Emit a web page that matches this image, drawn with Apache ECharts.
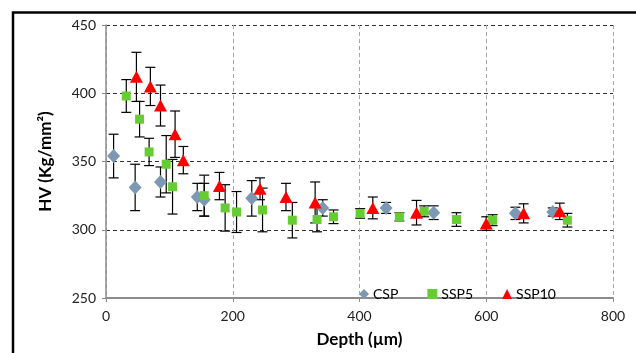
<!DOCTYPE html>
<html><head><meta charset="utf-8">
<script src="https://cdn.jsdelivr.net/npm/echarts@6/dist/echarts.min.js"></script>
<style>html,body{margin:0;padding:0;background:#fff}#c{width:636px;height:353px}</style>
</head><body><div id="c"></div>
<script>
const xTicks = [0, 200, 400, 600, 800];
const yTicks = [250, 300, 350, 400, 450];

const cspDepth = [12, 46, 86, 144, 155, 230, 342, 442, 517, 646, 705];
const cspHV    = [354, 331, 335, 324, 322, 323, 316, 316, 312.5, 312, 313];
const cspErr   = [16, 17, 11, 10, 12, 13, 6, 4, 5, 4.5, 3];

const ssp5Depth = [32, 53, 68, 95, 105, 155, 188, 206, 247, 294, 333, 359, 401, 463, 502, 553, 610, 728];
const ssp5HV    = [398, 381, 357, 348, 331.5, 325, 316, 313, 314.5, 307, 307.5, 309.5, 312, 309.5, 313.5, 307.5, 307, 307];
const ssp5Err   = [12, 13, 10, 21, 20, 15, 17, 15, 16, 13, 9, 5, 3.5, 3, 4, 5, 4, 5];

const ssp10Depth = [48, 70, 86, 109, 122, 179, 243, 284, 330, 421, 490, 600, 659, 716];
const ssp10HV    = [412, 405, 391, 370, 351, 332, 330, 324, 320, 316, 312.5, 304.5, 312, 313.5];
const ssp10Err   = [18, 14, 15, 17, 10, 10, 8, 10, 15, 8, 9, 5, 7, 6];

const FONT = 'Lato';
const chart = echarts.init(document.getElementById('c'));

function pts(xs, ys) { return xs.map((x, i) => [x, ys[i]]); }
function errData(xs, ys, es) { return xs.map((x, i) => [x, ys[i] - es[i], ys[i] + es[i]]); }
function errSeries(name, xs, ys, es) {
  return {
    type: 'custom', name: name + '_err', silent: true, z: 1,
    data: errData(xs, ys, es),
    renderItem: function (params, api) {
      const lo = api.coord([api.value(0), api.value(1)]);
      const hi = api.coord([api.value(0), api.value(2)]);
      const w = 5;
      const st = { stroke: '#000', lineWidth: 1.2 };
      return { type: 'group', children: [
        { type: 'line', shape: { x1: lo[0], y1: lo[1], x2: hi[0], y2: hi[1] }, style: st },
        { type: 'line', shape: { x1: lo[0] - w, y1: lo[1], x2: lo[0] + w, y2: lo[1] }, style: st },
        { type: 'line', shape: { x1: hi[0] - w, y1: hi[1], x2: hi[0] + w, y2: hi[1] }, style: st }
      ]};
    },
    encode: { x: 0, y: [1, 2] }
  };
}

chart.setOption({
  animation: false,
  textStyle: { fontFamily: FONT },
  grid: { left: 106, top: 25, right: 23, bottom: 50.5, containLabel: false },
  graphic: [
    { type: 'polyline', z: 100, shape: { points: [[13, 360], [13, 12.5], [640, 12.5]] },
      style: { stroke: '#000', lineWidth: 2.5, fill: null } }
  ],
  legend: {
    left: 354, top: 282, itemGap: 29, itemWidth: 10, itemHeight: 10,
    data: ['CSP', 'SSP5', 'SSP10'],
    textStyle: { fontFamily: FONT, fontSize: 14, color: '#000', padding: [0, 0, 0, -1] }
  },
  xAxis: {
    type: 'value', min: 0, max: 800, interval: 200,
    name: 'Depth (µm)', nameLocation: 'middle', nameGap: 33,
    nameTextStyle: { fontFamily: FONT, fontSize: 17, fontWeight: 'bold', color: '#000' },
    axisLine: { show: true, onZero: false, lineStyle: { color: '#8c8c8c', width: 2 } },
    axisTick: { show: true, length: 4, lineStyle: { color: '#8c8c8c' } },
    axisLabel: { fontFamily: FONT, fontSize: 14, color: '#222', margin: 11,
      formatter: v => xTicks.includes(v) ? String(v) : '' },
    splitLine: { show: true, lineStyle: { color: '#a6a6a6', type: [4, 3], width: 1 } }
  },
  yAxis: {
    type: 'value', min: 250, max: 450, interval: 50,
    name: 'HV (Kg/mm²)', nameLocation: 'middle', nameGap: 52, nameRotate: 90,
    nameTextStyle: { fontFamily: FONT, fontSize: 17, fontWeight: 'bold', color: '#000' },
    axisLine: { show: true, lineStyle: { color: '#8c8c8c', width: 1.5 } },
    axisTick: { show: true, length: 4, lineStyle: { color: '#8c8c8c' } },
    axisLabel: { fontFamily: FONT, fontSize: 14, color: '#222', margin: 10,
      formatter: v => yTicks.includes(v) ? String(v) : '' },
    splitLine: { show: true, lineStyle: { color: '#333', type: [4, 3], width: 1 } }
  },
  series: [
    errSeries('CSP', cspDepth, cspHV, cspErr),
    errSeries('SSP5', ssp5Depth, ssp5HV, ssp5Err),
    errSeries('SSP10', ssp10Depth, ssp10HV, ssp10Err),
    { type: 'scatter', name: 'CSP', symbol: 'diamond', symbolSize: [13, 14], z: 3,
      itemStyle: { color: '#7d98b3', opacity: 1 }, data: pts(cspDepth, cspHV) },
    { type: 'scatter', name: 'SSP5', symbol: 'rect', symbolSize: 9, z: 4,
      itemStyle: { color: '#66cc33', opacity: 1 }, data: pts(ssp5Depth, ssp5HV) },
    { type: 'scatter', name: 'SSP10', symbol: 'triangle', symbolSize: [13, 12], z: 5,
      itemStyle: { color: '#ff0000', opacity: 1 }, data: pts(ssp10Depth, ssp10HV) }
  ]
});
</script></body></html>
